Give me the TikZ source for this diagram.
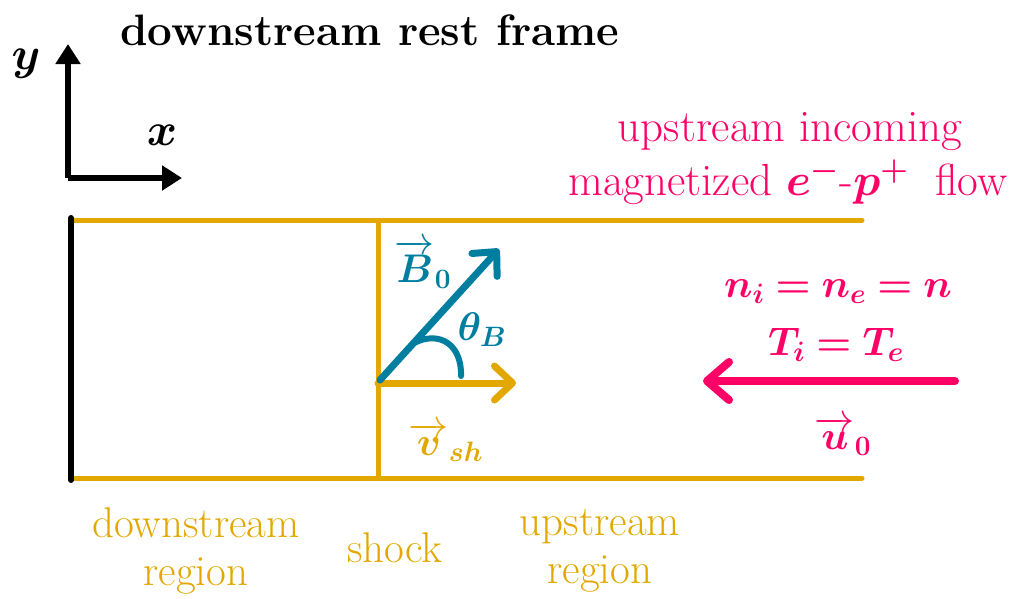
\RequirePackage{fix-cm}
\documentclass[tikz,border=0pt]{standalone}
\usepackage{amsmath}
\usepackage{bm}
\usetikzlibrary{arrows.meta}
\definecolor{gold}{RGB}{226,168,0}
\definecolor{teal}{RGB}{0,126,160}
\definecolor{pink}{RGB}{255,0,102}
\begin{document}
\begin{tikzpicture}[x=1pt,y=-1pt,
  goldline/.style={draw=gold,line width=5pt,line cap=round},
  axis/.style={draw=black,line width=6pt,-{Triangle[length=20pt,width=24pt]}},
  barb/.style={line width=7pt,line cap=round,-{Straight Barb[round,length=18pt,width=34pt]}},
  lbl/.style={inner sep=0pt,font=\fontsize{45}{50}\selectfont},
  reg/.style={inner sep=0pt,text=gold,align=center,font=\fontsize{43}{48}\selectfont},
  mth/.style={inner sep=0pt,font=\fontsize{40}{46}\selectfont}]
\useasboundingbox (0,0) rectangle (1013,598);
% axes
\coordinate (o) at (68,178);
\coordinate (ytip) at (68,44);
\coordinate (xtip) at (182,178);
\draw[axis,line join=round] (o) -- (ytip);
\draw[axis] (o) -- (xtip);
\node[mth,font=\fontsize{46}{50}\selectfont] (ylab) at (26,64) {$\bm{y}$};
\node[mth,font=\fontsize{46}{50}\selectfont] (xlab) at (162,135) {$\bm{x}$};
\node[inner sep=0pt,font=\fontsize{44}{50}\selectfont\bfseries] (title) at (370,30) {downstream rest frame};
% channel
\coordinate (tl) at (71,220);
\coordinate (tr) at (862,220);
\coordinate (bl) at (71,478);
\coordinate (br) at (862,478);
\coordinate (st) at (378,220);
\coordinate (sb) at (378,478);
\draw[goldline] (tl) -- (tr);
\draw[goldline] (bl) -- (br);
\draw[goldline,line cap=butt] (st) -- (sb);
\draw[line width=6pt,line cap=round] (71,218) -- (71,480);
% shock velocity
\coordinate (org) at (378,383);
\coordinate (vtip) at (516,383);
\draw[barb,draw=gold] (org) -- (vtip);
% B field
\coordinate (borg) at (380,380);
\coordinate (btip) at (499,249);
\draw[barb,draw=teal] (borg) -- (btip);
\coordinate (a1) at (414,343);
\coordinate (a2) at (461,376);
\draw[teal,line width=6pt,line cap=round] (a1) .. controls (440,330) and (462,345) .. (a2);
\node[mth,text=teal] (B) at (423,264) {$\overrightarrow{\bm{B}}_{\bm{0}}$};
\node[mth,text=teal] (th) at (482,330) {$\bm{\theta_B}$};
\node[mth,text=gold] (v) at (446,442) {$\overrightarrow{\bm{v}}_{\bm{sh}}$};
% upstream flow
\coordinate (us) at (955,381);
\coordinate (ue) at (703,381);
\draw[barb,draw=pink,line width=8pt,-{Straight Barb[round,length=22pt,width=38pt]}] (us) -- (ue);
\node[lbl,text=pink] (up1) at (790,132) {upstream incoming};
\node[lbl,text=pink] (up2) at (788,182) {magnetized $\bm{e^-}$-$\bm{p^+}$\ \ flow};
\node[mth,text=pink] (n) at (838,292) {$\bm{n_i=n_e=n}$};
\node[mth,text=pink] (T) at (836,345) {$\bm{T_i=T_e}$};
\node[mth,text=pink] (u) at (843,436) {$\overrightarrow{\bm{u}}_{\bm{0}}$};
% region labels
\node[reg] (down) at (196,551) {downstream\\region};
\node[reg] (shock) at (395,548) {shock};
\node[reg] (upr) at (600,551) {upstream\\region};
\end{tikzpicture}
\end{document}
